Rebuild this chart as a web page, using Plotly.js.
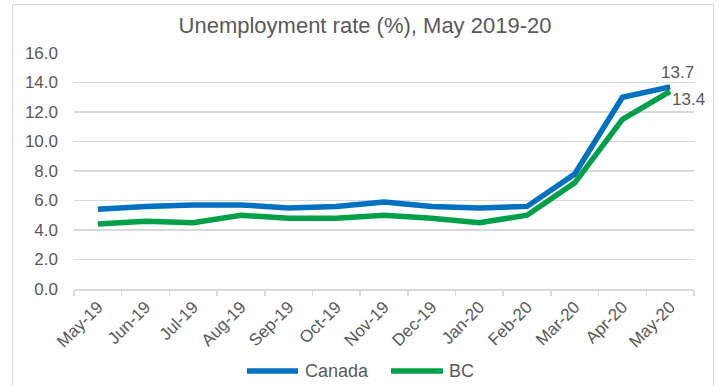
<!DOCTYPE html>
<html>
<head>
<meta charset="utf-8">
<script src="https://cdn.plot.ly/plotly-3.0.1.min.js"></script>
<style>
  html, body { margin: 0; padding: 0; background: #fff; }
  #wrap { position: relative; width: 719px; height: 386px; }
  #chart { width: 719px; height: 386px; }
  #frame { position: absolute; left: 12px; top: 4px; width: 702px; height: 400px;
           border: 1.5px solid #d9d9d9; pointer-events: none; box-sizing: border-box; }
</style>
</head>
<body>
<div id="wrap">
  <div id="chart"></div>
  <div id="frame"></div>
</div>
<script>
const months = ["May-19","Jun-19","Jul-19","Aug-19","Sep-19","Oct-19","Nov-19","Dec-19","Jan-20","Feb-20","Mar-20","Apr-20","May-20"];
const canada = [5.4, 5.6, 5.7, 5.7, 5.5, 5.6, 5.9, 5.6, 5.5, 5.6, 7.8, 13.0, 13.7];
const bc     = [4.4, 4.6, 4.5, 5.0, 4.8, 4.8, 5.0, 4.8, 4.5, 5.0, 7.2, 11.5, 13.4];
const yTicks = [0, 2, 4, 6, 8, 10, 12, 14, 16];
const seriesNames = ["Canada", "BC"];
const seriesColors = ["#0070C0", "#00A04A"];

const font = "Liberation Sans, Arial, sans-serif";
const grey = "#595959";
const last = months.length - 1;

// plot area geometry (px) for paper conversions of the hand-drawn legend
const L = 74, R = 25, T = 53, B = 97, W = 719, H = 386;
const pw = W - L - R, ph = H - T - B;
const px = v => (v - L) / pw;
const py = v => (H - B - v) / ph;

const traces = [
  { x: months, y: canada, name: seriesNames[0], type: "scatter", mode: "lines",
    line: { color: seriesColors[0], width: 5.5 } },
  { x: months, y: bc, name: seriesNames[1], type: "scatter", mode: "lines",
    line: { color: seriesColors[1], width: 5.5 } }
];

const legendItems = [
  { x0: 247, x1: 298, tx: 303 },
  { x0: 391, x1: 443, tx: 447 }
];
const legY = 371;

const shapes = legendItems.map((it, i) => ({
  type: "line", xref: "paper", yref: "paper",
  x0: px(it.x0), x1: px(it.x1), y0: py(legY), y1: py(legY),
  line: { color: seriesColors[i], width: 5.5 }
}));

const annotations = [
  { x: months[last], y: canada[last], text: canada[last].toFixed(1), showarrow: false,
    xshift: 7, yshift: 14, font: { size: 17, color: grey } },
  { x: months[last], y: bc[last], text: bc[last].toFixed(1), showarrow: false,
    xshift: 18, yshift: -8, font: { size: 17, color: grey } }
].concat(legendItems.map((it, i) => ({
  xref: "paper", yref: "paper", x: px(it.tx), y: py(legY), xanchor: "left", yanchor: "middle",
  text: seriesNames[i], showarrow: false, font: { size: 18, color: grey }
})));

const layout = {
  width: W, height: H,
  margin: { l: L, r: R, t: T, b: B },
  paper_bgcolor: "#fff", plot_bgcolor: "#fff",
  font: { family: font, color: grey, size: 17 },
  title: { text: "Unemployment rate (%), May 2019-20", font: { family: font, size: 22, color: grey },
           x: 365 / 719, xref: "container", xanchor: "center", y: 1 - 25 / 386, yref: "container", yanchor: "middle" },
  xaxis: {
    type: "category", range: [-0.5, months.length - 0.5],
    tickangle: -45, showgrid: false, showline: true, linecolor: "#d9d9d9", linewidth: 1.5,
    ticks: "outside", ticklen: 5, tickcolor: "#d9d9d9", tickwidth: 1.5,
    tickson: "boundaries", tickfont: { size: 17, color: grey }, fixedrange: true
  },
  yaxis: {
    range: [0, 16], tickvals: yTicks, ticktext: yTicks.map(v => v.toFixed(1)),
    showgrid: true, gridcolor: "#d9d9d9", gridwidth: 1.5, zeroline: false,
    showline: false, ticks: "", ticklabelstandoff: 15, tickfont: { size: 17, color: grey }, fixedrange: true
  },
  shapes: shapes,
  annotations: annotations,
  showlegend: false
};

Plotly.newPlot("chart", traces, layout, { displayModeBar: false, staticPlot: true });
</script>
</body>
</html>
